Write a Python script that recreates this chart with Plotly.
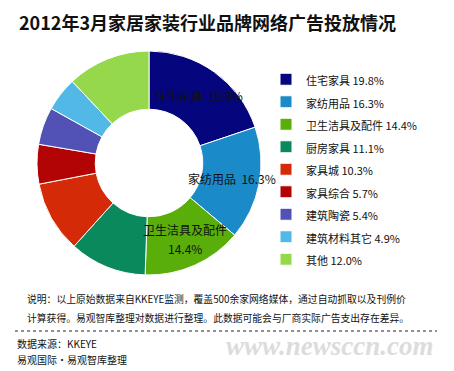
import math
import plotly.graph_objects as go

W, H = 454, 371

categories = ["住宅家具", "家纺用品", "卫生洁具及配件", "厨房家具", "家具城",
              "家具综合", "建筑陶瓷", "建筑材料其它", "其他"]
shares = [19.8, 16.3, 14.4, 11.1, 10.3, 5.7, 5.4, 4.9, 12.0]
colors = ["#05057e", "#1a8ac8", "#5aae0a", "#0a8a5c", "#d42a08",
          "#b20404", "#5252b6", "#52b8e6", "#96d84c"]
# which slices carry an in-ring label (name / value split over lines or not)
labelled = [True, True, True, False, False, False, False, False, False]
two_line = [False, False, True, False, False, False, False, False, False]

legend_labels = [f"<span style='font-size:11px'>{c} {v:.1f}%</span>" for c, v in zip(categories, shares)]

title_text = "2012年3月家居家装行业品牌网络广告投放情况"
note_lines = ["说明：以上原始数据来自KKEYE监测，覆盖500余家网络媒体，通过自动抓取以及刊例价",
              "计算获得。易观智库整理对数据进行整理。此数据可能会与厂商实际广告支出存在差异。"]
source_text = "数据来源：KKEYE"
org_text = "易观国际·易观智库整理"
watermark = "www.newsccn.com"

FONT = "Noto Sans CJK SC"

def px(x):
    return x / W

def py(y):
    return 1 - y / H

cx, cy, r = 149, 163, 112
hole = 0.48

fig = go.Figure(go.Pie(
    labels=legend_labels,
    values=shares,
    textinfo="none",
    marker=dict(colors=colors, line=dict(color="#ffffff", width=1)),
    hole=hole,
    sort=False,
    direction="clockwise",
    rotation=0,
    domain=dict(x=[px(cx - r), px(cx + r)], y=[py(cy + r), py(cy - r)]),
    hoverinfo="label+percent",
))

def note(text, x, y, size, xanchor="left", family=FONT, color="#111111"):
    return dict(text=text, x=px(x), y=py(y), xref="paper", yref="paper",
                xanchor=xanchor, yanchor="middle", showarrow=False,
                font=dict(family=family, size=size, color=color))

annotations = [
    note(f"<b>{title_text}</b>", 17, 22, 18),
    note(note_lines[0], 25, 299, 9.8),
    note(note_lines[1], 25, 318, 9.8),
    note(f"<b><i>{watermark}</i></b>", 330, 346, 27, xanchor="center",
         family="Liberation Serif", color="#dcdcdc"),
    note(source_text, 15, 343, 10),
    note(org_text, 15, 359, 10),
]

# in-ring labels placed at each slice's mid-angle, derived from the data
total = sum(shares)
rm = (r + r * hole) / 2
cum = 0.0
for cat, v, lab, tl in zip(categories, shares, labelled, two_line):
    mid = (cum + v / 2) / total * 2 * math.pi
    cum += v
    if not lab:
        continue
    lx = cx + rm * math.sin(mid)
    ly = cy - rm * math.cos(mid)
    if tl:
        annotations.append(note(cat, lx + 2, ly - 9.5, 12, xanchor="center"))
        annotations.append(note(f"{v:.1f}%", lx + 2, ly + 9.5, 12, xanchor="center"))
    else:
        annotations.append(note(f"{cat}  {v:.1f}%", lx + 2, ly, 12, xanchor="center"))

fig.update_layout(
    width=W, height=H,
    margin=dict(l=0, r=0, t=0, b=0),
    paper_bgcolor="#ffffff",
    plot_bgcolor="#ffffff",
    showlegend=True,
    legend=dict(x=px(266), y=py(63), xanchor="left", yanchor="top",
                font=dict(family=FONT, size=15, color="#111111"),
                bgcolor="rgba(0,0,0,0)", traceorder="normal"),
    annotations=annotations,
    shapes=[dict(type="line", xref="paper", yref="paper",
                 x0=px(15), x1=px(437), y0=py(331), y1=py(331),
                 line=dict(color="#222222", width=1, dash="dot"))],
)

fig.write_html("out.html", config={"displayModeBar": False},
               post_script="document.body.style.margin='0px';")
